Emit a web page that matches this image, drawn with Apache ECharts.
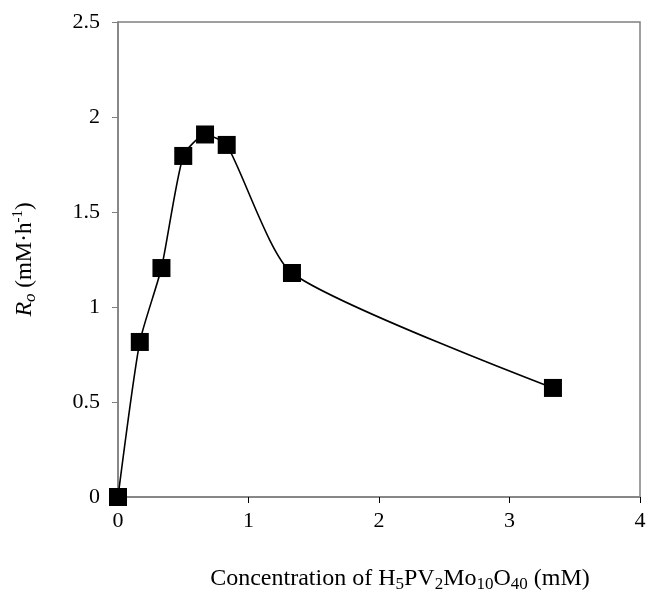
<!DOCTYPE html>
<html>
<head>
<meta charset="utf-8">
<script src="https://cdn.jsdelivr.net/npm/echarts@6/dist/echarts.min.js"></script>
<style>
    html, body { margin: 0; padding: 0; background: #fff; }
    #chart { width: 648px; height: 592px; }
</style>
</head>
<body>
<div id="chart"></div>
<script>
// concentration (mM) and initial rate Ro (mM/h)
const concentration = [0, 0.167, 0.333, 0.5, 0.667, 0.833, 1.333, 3.333];
const rate = [0, 0.816, 1.205, 1.795, 1.908, 1.853, 1.179, 0.574];
const xTicks = [0, 1, 2, 3, 4];
const yTicks = [0, 0.5, 1, 1.5, 2, 2.5];

const font = '"Liberation Serif", "Times New Roman", serif';
const chart = echarts.init(document.getElementById('chart'));

const points = concentration.map((c, i) => [c, rate[i]]);

let option = {
    animation: false,
    grid: {
        left: 118,
        right: 8,
        top: 22,
        bottom: 95,
        outerBoundsMode: 'none',
        containLabel: false,
        show: true,
        borderColor: '#808080',
        borderWidth: 1.5
    },
    xAxis: {
        type: 'value',
        min: xTicks[0],
        max: xTicks[xTicks.length - 1],
        interval: 1,
        name: '{t|Concentration of H}{s|5}{t|PV}{s|2}{t|Mo}{s|10}{t|O}{s|40}{t| (mM)}',
        nameLocation: 'middle',
        nameGap: 68,
        nameTextStyle: {
            padding: [0, 0, 0, 42],
            rich: {
                t: { fontFamily: font, fontSize: 24, color: '#000', lineHeight: 28 },
                s: { fontFamily: font, fontSize: 17, color: '#000', lineHeight: 16, verticalAlign: 'bottom' }
            }
        },
        axisLine: { onZero: false, lineStyle: { color: '#808080', width: 1.5 } },
        axisTick: { show: true, inside: false, length: 6, lineStyle: { color: '#000' } },
        axisLabel: { fontFamily: font, fontSize: 22, color: '#000', margin: 13 },
        splitLine: { show: false }
    },
    yAxis: {
        type: 'value',
        min: yTicks[0],
        max: yTicks[yTicks.length - 1],
        interval: 0.5,
        name: '{i|R}{is|o}{t| (mM·h}{sp|-1}{t|)}',
        nameLocation: 'middle',
        nameRotate: 90,
        nameGap: 79,
        nameTextStyle: {
            rich: {
                i: { fontFamily: font, fontSize: 24, fontStyle: 'italic', color: '#000', lineHeight: 28 },
                is: { fontFamily: font, fontSize: 17, fontStyle: 'italic', color: '#000', lineHeight: 16, verticalAlign: 'bottom' },
                t: { fontFamily: font, fontSize: 23, color: '#000', lineHeight: 28 },
                sp: { fontFamily: font, fontSize: 15, color: '#000', lineHeight: 16, verticalAlign: 'top' }
            }
        },
        axisLine: { show: true, onZero: false, lineStyle: { color: '#808080', width: 1.5 } },
        axisTick: { show: true, inside: false, length: 6, lineStyle: { color: '#808080' } },
        axisLabel: { fontFamily: font, fontSize: 22, color: '#000', margin: 18 },
        splitLine: { show: false }
    },
    series: [
        {
            type: 'line',
            data: points,
            smooth: 0.2,
            symbol: 'rect',
            symbolSize: 18,
            showAllSymbol: true,
            lineStyle: { color: '#000', width: 1.6 },
            itemStyle: { color: '#000' },
            z: 3
        }
    ]
};

chart.setOption(option);
</script>
</body>
</html>
